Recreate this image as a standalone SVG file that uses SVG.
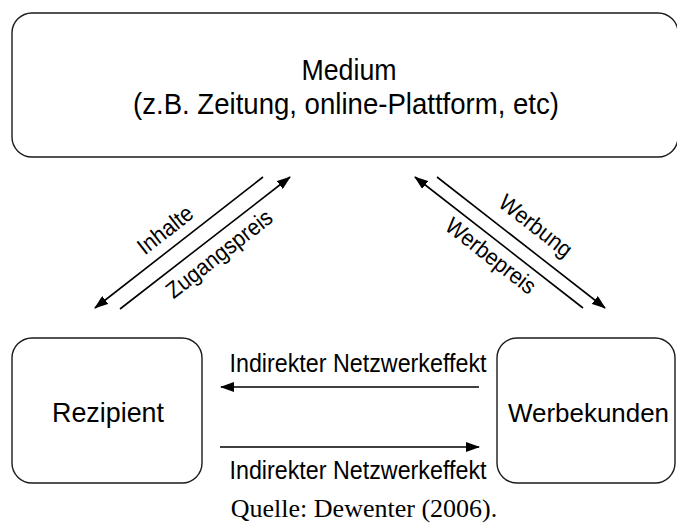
<svg xmlns="http://www.w3.org/2000/svg" width="677" height="525" viewBox="0 0 677 525">
<style>
.box{fill:#fff;stroke:#1a1a1a;stroke-width:1.4}
.t{font-family:"Liberation Sans",Arial,sans-serif;fill:#000}
.ln{stroke:#000;stroke-width:1.6;fill:none}
.src{font-family:"Liberation Serif","Times New Roman",serif;fill:#000}
</style>
<defs>
<marker id="ah" markerUnits="userSpaceOnUse" viewBox="0 0 14 10" markerWidth="14" markerHeight="10" refX="13" refY="5" orient="auto">
<path d="M0,0 L14,5 L0,10 Z" fill="#000"/>
</marker>
</defs>
<rect width="677" height="525" fill="#fff"/>
<g id="medium">
<rect class="box" x="12" y="13" width="666" height="144" rx="20"/>
<text class="t" x="349" y="80" font-size="30" text-anchor="middle" textLength="95" lengthAdjust="spacingAndGlyphs">Medium</text>
<text class="t" x="346" y="114" font-size="30" text-anchor="middle" textLength="426" lengthAdjust="spacingAndGlyphs">(z.B. Zeitung, online-Plattform, etc)</text>
</g>
<g id="rezipient">
<rect class="box" x="12" y="338" width="190" height="145" rx="20"/>
<text class="t" x="108" y="422" font-size="28" text-anchor="middle" textLength="112" lengthAdjust="spacingAndGlyphs">Rezipient</text>
</g>
<g id="werbekunden">
<rect class="box" x="497" y="338" width="178" height="145" rx="20"/>
<text class="t" x="508" y="422" font-size="26" textLength="161" lengthAdjust="spacingAndGlyphs">Werbekunden</text>
</g>
<g id="connectors">
<line class="ln" x1="263" y1="177" x2="95" y2="308" marker-end="url(#ah)"/>
<line class="ln" x1="120" y1="309" x2="290" y2="177" marker-end="url(#ah)"/>
<line class="ln" x1="583" y1="308" x2="415" y2="177" marker-end="url(#ah)"/>
<line class="ln" x1="437" y1="177" x2="605" y2="308" marker-end="url(#ah)"/>
<line class="ln" x1="479" y1="387" x2="221" y2="387" marker-end="url(#ah)"/>
<line class="ln" x1="220" y1="447" x2="479" y2="447" marker-end="url(#ah)"/>
<text class="t" font-size="23" text-anchor="middle" textLength="64" lengthAdjust="spacingAndGlyphs" transform="translate(170,236) rotate(-38)">Inhalte</text>
<text class="t" font-size="23" text-anchor="middle" textLength="128" lengthAdjust="spacingAndGlyphs" transform="translate(224,260) rotate(-38)">Zugangspreis</text>
<text class="t" font-size="23" text-anchor="middle" textLength="86" lengthAdjust="spacingAndGlyphs" transform="translate(531,232) rotate(38)">Werbung</text>
<text class="t" font-size="23" text-anchor="middle" textLength="108" lengthAdjust="spacingAndGlyphs" transform="translate(486,262) rotate(38)">Werbepreis</text>
<text class="t" x="358" y="372" font-size="25" text-anchor="middle" textLength="257" lengthAdjust="spacingAndGlyphs">Indirekter Netzwerkeffekt</text>
<text class="t" x="358" y="479" font-size="25" text-anchor="middle" textLength="257" lengthAdjust="spacingAndGlyphs">Indirekter Netzwerkeffekt</text>
</g>
<text class="src" x="364" y="517" font-size="26" text-anchor="middle">Quelle: Dewenter (2006).</text>
</svg>
